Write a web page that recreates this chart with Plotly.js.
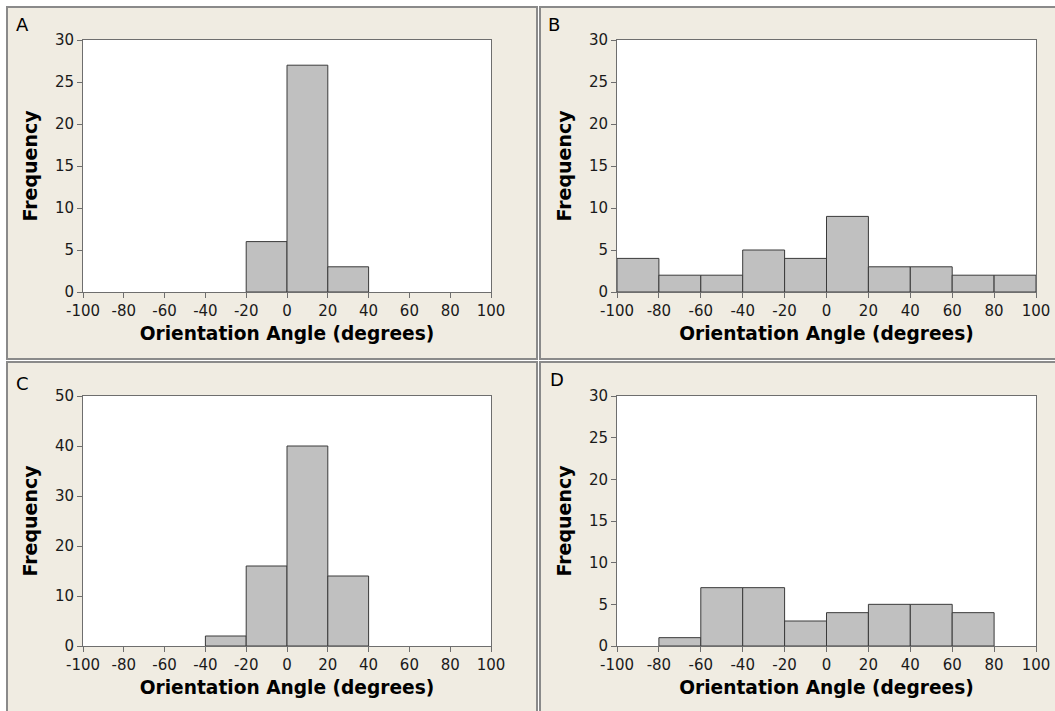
<!DOCTYPE html>
<html><head><meta charset="utf-8">
<script src="https://cdn.plot.ly/plotly-3.0.1.min.js"></script>
<style>html,body{margin:0;padding:0;background:#fff;}#chart{width:1055px;height:711px;}</style>
</head><body><div id="chart"></div>
<script>
// Bin centers (bins are 20 degrees wide)
const binsA = [-10, 10, 30];
const countsA = [6, 27, 3];
const binsB = [-90, -70, -50, -30, -10, 10, 30, 50, 70, 90];
const countsB = [4, 2, 2, 5, 4, 9, 3, 3, 2, 2];
const binsC = [-30, -10, 10, 30];
const countsC = [2, 16, 40, 14];
const binsD = [-70, -50, -30, -10, 10, 30, 50, 70];
const countsD = [1, 7, 7, 3, 4, 5, 5, 4];
const panelLabels = ["A", "B", "C", "D"];
const xTickVals = [-100, -80, -60, -40, -20, 0, 20, 40, 60, 80, 100];
const xTickText = ["-100", "-80", "-60", "-40", "-20", "0", "20", "40", "60", "80", "100"];
const xTitle = "Orientation Angle (degrees)";
const yTitle = "Frequency";
const yMax = [30, 30, 50, 30];
const yStep = [5, 5, 10, 5];

const W = 1055, H = 711;
const px = v => v / W, py = v => 1 - v / H;

const panels = [
  {bins: binsA, counts: countsA, xd: [83, 491], yd: [40, 292], box: [7, 7, 537, 359], lab: [22, 25]},
  {bins: binsB, counts: countsB, xd: [617, 1036], yd: [40, 292], box: [540, 7, 1060, 359], lab: [554, 25]},
  {bins: binsC, counts: countsC, xd: [83, 491], yd: [396, 646], box: [7, 362, 537, 716], lab: [22, 384]},
  {bins: binsD, counts: countsD, xd: [617, 1036], yd: [396, 646], box: [540, 362, 1060, 716], lab: [557, 380]}
];

const font = "Tahoma, 'DejaVu Sans', sans-serif";
const traces = [];
const layout = {
  width: W, height: H, margin: {l: 0, r: 0, t: 0, b: 0},
  paper_bgcolor: "#ffffff", plot_bgcolor: "#ffffff",
  showlegend: false, bargap: 0,
  font: {family: font, color: "#1a1a1a"},
  shapes: [], annotations: []
};

panels.forEach((p, i) => {
  layout.shapes.push({
    type: "rect", xref: "paper", yref: "paper", layer: "below",
    x0: px(p.box[0]), x1: px(p.box[2]), y0: py(p.box[3]), y1: py(p.box[1]),
    fillcolor: "#f0ece2", line: {color: "#8a8a8a", width: 2}
  });
});

panels.forEach((p, i) => {
  const n = i + 1;
  const xa = "x" + (n === 1 ? "" : n), ya = "y" + (n === 1 ? "" : n);
  traces.push({
    type: "bar", x: p.bins, y: p.counts, width: 20,
    xaxis: xa, yaxis: ya,
    marker: {color: "#c0c0c0", line: {color: "#3a3a3a", width: 1}},
    hoverinfo: "x+y"
  });
  const axCommon = {
    showline: true, linecolor: "#6e6e6e", linewidth: 1, mirror: true,
    ticks: "outside", ticklen: 5, tickcolor: "#6e6e6e", showgrid: false, zeroline: false,
    tickfont: {size: 15, family: font, color: "#1a1a1a"}
  };
  layout["xaxis" + (n === 1 ? "" : n)] = Object.assign({}, axCommon, {
    domain: [px(p.xd[0]), px(p.xd[1])], anchor: ya,
    range: [-100, 100], tickmode: "array", tickvals: xTickVals, ticktext: xTickText,
    title: {text: xTitle, font: {size: 18.6, family: font, color: "#000", weight: "bold"}, standoff: 7}
  });
  layout["yaxis" + (n === 1 ? "" : n)] = Object.assign({}, axCommon, {
    domain: [py(p.yd[1]), py(p.yd[0])], anchor: xa,
    range: [0, yMax[i]], tickmode: "linear", tick0: 0, dtick: yStep[i],
    title: {text: yTitle, font: {size: 19, family: font, color: "#000", weight: "bold"}, standoff: 12}
  });
  layout.shapes.push({
    type: "rect", xref: xa + " domain", yref: ya + " domain", layer: "below",
    x0: 0, x1: 1, y0: 0, y1: 1, fillcolor: "#ffffff", line: {width: 0}
  });
  layout.annotations.push({
    xref: "paper", yref: "paper", x: px(p.lab[0]), y: py(p.lab[1]),
    xanchor: "center", yanchor: "middle", showarrow: false,
    text: panelLabels[i], font: {size: 18, family: font, color: "#000"}
  });
});

Plotly.newPlot("chart", traces, layout, {displayModeBar: false, staticPlot: true});
</script></body></html>
